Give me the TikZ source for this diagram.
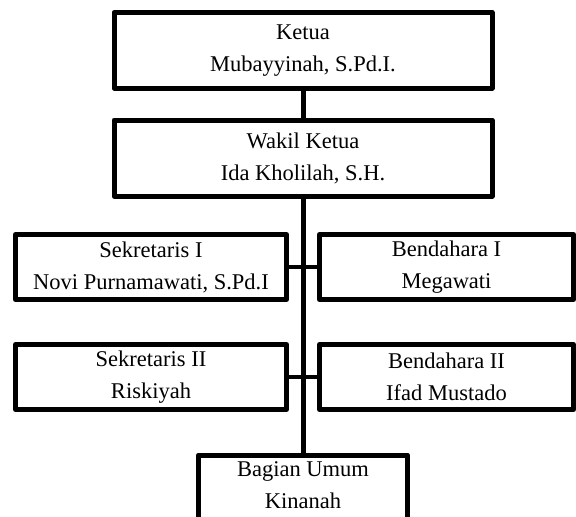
\documentclass[tikz,border=0pt]{standalone}
\usepackage{fontspec}
\setmainfont{Liberation Serif}
\begin{document}
\begin{tikzpicture}[x=1pt,y=-1pt,
  orgbox/.style={draw=black,line width=5pt,line join=round,rectangle,inner sep=0pt,outer sep=0pt,
    align=center,font=\fontsize{22.5}{32}\selectfont},
  txt/.style={inner sep=0pt,outer sep=0pt,align=center,font=\fontsize{22.5}{32}\selectfont},
  vlink/.style={line width=5pt},
  hlink/.style={line width=4.5pt}]
\useasboundingbox (0,0) rectangle (576,517);
\clip (0,0) rectangle (576,517);
\node[orgbox,minimum width=378pt,minimum height=75.5pt] (ketua) at (303,50.25) {Ketua\\Mubayyinah, S.Pd.I.};
\node[orgbox,minimum width=378pt,minimum height=76pt] (wakil) at (303,158) {Wakil Ketua\\Ida Kholilah, S.H.};
\node[orgbox,minimum width=271pt,minimum height=65pt] (sek1) at (151,267) {Sekretaris I\\Novi Purnamawati, S.Pd.I};
\node[orgbox,minimum width=254pt,minimum height=65pt] (ben1) at (446.5,267) {Bendahara I\\Megawati};
\node[orgbox,minimum width=271pt,minimum height=65pt] (sek2) at (151,377) {Sekretaris II\\Riskiyah};
\node[orgbox,minimum width=254pt,minimum height=65pt] (ben2) at (446.5,377) {Bendahara II\\Ifad Mustado};
\node[orgbox,minimum width=209pt,minimum height=90pt,anchor=north] (bag) at (303,455) {};
\node[txt,anchor=north] (bagtext) at (303,462) {Bagian Umum\\Kinanah};
\draw[vlink] (ketua.south) -- (wakil.north);
\draw[hlink] (sek1.east) -- (ben1.west);
\draw[hlink] (sek2.east) -- (ben2.west);
\draw[vlink] (wakil.south) -- (bag.north);
\end{tikzpicture}
\end{document}
